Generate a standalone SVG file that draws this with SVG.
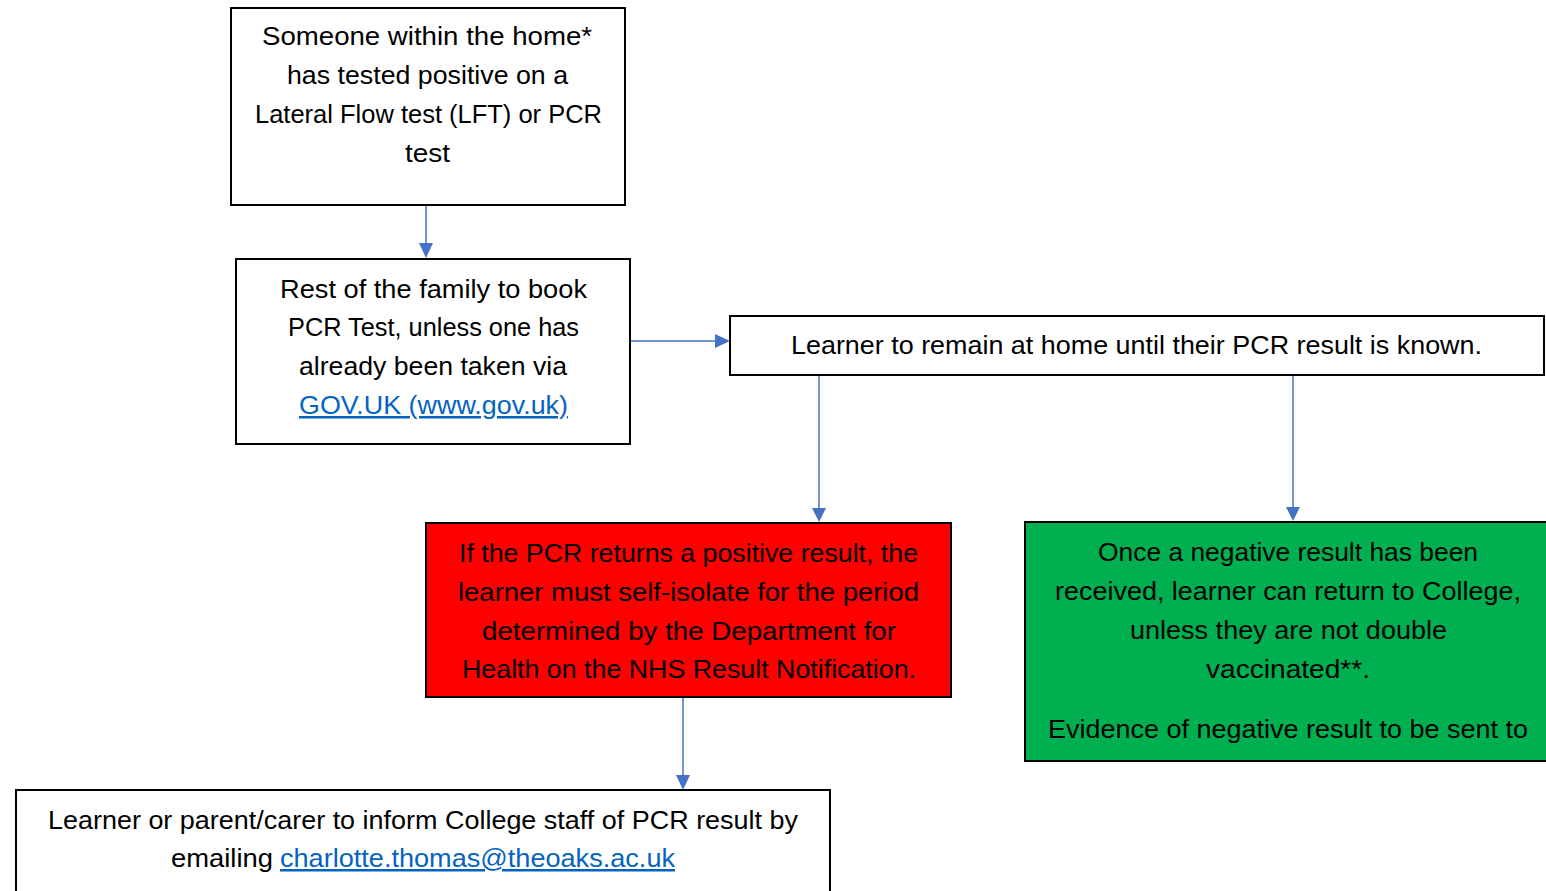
<svg xmlns="http://www.w3.org/2000/svg" width="1546" height="891" viewBox="0 0 1546 891">
<defs>
<marker id="ah" viewBox="0 0 10 10" refX="10" refY="5" markerWidth="5" markerHeight="5" orient="auto" markerUnits="userSpaceOnUse" style="overflow:visible">
<path d="M0,0 L10,5 L0,10 Z" fill="#4472C4" transform="scale(1.5)"/>
</marker>
<style>
.box{fill:#fff;stroke:#000;stroke-width:2}
.t{font-family:"Liberation Sans",Arial,sans-serif;font-size:25px;fill:#000}
.lnk{fill:#0563C1;text-decoration:underline}
.c{stroke:#4472C4;stroke-width:1.5;fill:none}
</style>
</defs>
<rect width="1546" height="891" fill="#fff"/>
<g id="connectors">
<line class="c" x1="426" y1="205" x2="426" y2="243"/><path d="M419,243 L433,243 L426,258 Z" fill="#4472C4"/>
<line class="c" x1="630" y1="341" x2="715" y2="341"/><path d="M715,334 L715,348 L730,341 Z" fill="#4472C4"/>
<line class="c" x1="819" y1="375" x2="819" y2="508"/><path d="M812,508 L826,508 L819,522 Z" fill="#4472C4"/>
<line class="c" x1="1293" y1="375" x2="1293" y2="507"/><path d="M1286,507 L1300,507 L1293,521 Z" fill="#4472C4"/>
<line class="c" x1="683" y1="697" x2="683" y2="775"/><path d="M676,775 L690,775 L683,790 Z" fill="#4472C4"/>
</g>
<g id="n1">
<rect class="box" x="231" y="8" width="394" height="197"/>
<text class="t" x="262" y="45" textLength="330" lengthAdjust="spacingAndGlyphs">Someone within the home*</text>
<text class="t" x="287" y="84" textLength="281" lengthAdjust="spacingAndGlyphs">has tested positive on a</text>
<text class="t" x="255" y="123" textLength="347" lengthAdjust="spacingAndGlyphs">Lateral Flow test (LFT) or PCR</text>
<text class="t" x="405" y="162" textLength="45" lengthAdjust="spacingAndGlyphs">test</text>
</g>
<g id="n2">
<rect class="box" x="236" y="259" width="394" height="185"/>
<text class="t" x="280" y="298" textLength="307" lengthAdjust="spacingAndGlyphs">Rest of the family to book</text>
<text class="t" x="288" y="336" textLength="291" lengthAdjust="spacingAndGlyphs">PCR Test, unless one has</text>
<text class="t" x="299" y="375" textLength="268" lengthAdjust="spacingAndGlyphs">already been taken via</text>
<text class="t lnk" x="299" y="414" textLength="269" lengthAdjust="spacingAndGlyphs">GOV.UK (www.gov.uk)</text>
</g>
<g id="n3">
<rect class="box" x="730" y="316" width="814" height="59"/>
<text class="t" x="791" y="354" textLength="691" lengthAdjust="spacingAndGlyphs">Learner to remain at home until their PCR result is known.</text>
</g>
<g id="n4">
<rect x="426" y="523" width="525" height="174" fill="#FF0000" stroke="#000" stroke-width="2"/>
<text class="t" x="459" y="562" textLength="459" lengthAdjust="spacingAndGlyphs">If the PCR returns a positive result, the</text>
<text class="t" x="458" y="601" textLength="461" lengthAdjust="spacingAndGlyphs">learner must self-isolate for the period</text>
<text class="t" x="482" y="640" textLength="414" lengthAdjust="spacingAndGlyphs">determined by the Department for</text>
<text class="t" x="462" y="678" textLength="454" lengthAdjust="spacingAndGlyphs">Health on the NHS Result Notification.</text>
</g>
<g id="n5">
<rect x="1025" y="522" width="540" height="239" fill="#00B050" stroke="#000" stroke-width="2"/>
<text class="t" x="1098" y="561" textLength="380" lengthAdjust="spacingAndGlyphs">Once a negative result has been</text>
<text class="t" x="1055" y="600" textLength="466" lengthAdjust="spacingAndGlyphs">received, learner can return to College,</text>
<text class="t" x="1130" y="639" textLength="317" lengthAdjust="spacingAndGlyphs">unless they are not double</text>
<text class="t" x="1206" y="678" textLength="164" lengthAdjust="spacingAndGlyphs">vaccinated**.</text>
<text class="t" x="1048" y="738" textLength="480" lengthAdjust="spacingAndGlyphs">Evidence of negative result to be sent to</text>
</g>
<g id="n6">
<rect class="box" x="16" y="790" width="814" height="120"/>
<text class="t" x="48" y="829" textLength="750" lengthAdjust="spacingAndGlyphs">Learner or parent/carer to inform College staff of PCR result by</text>
<text class="t" x="171" y="867" textLength="102" lengthAdjust="spacingAndGlyphs">emailing</text>
<text class="t lnk" x="280" y="867" textLength="395" lengthAdjust="spacingAndGlyphs">charlotte.thomas@theoaks.ac.uk</text>
</g>
</svg>
